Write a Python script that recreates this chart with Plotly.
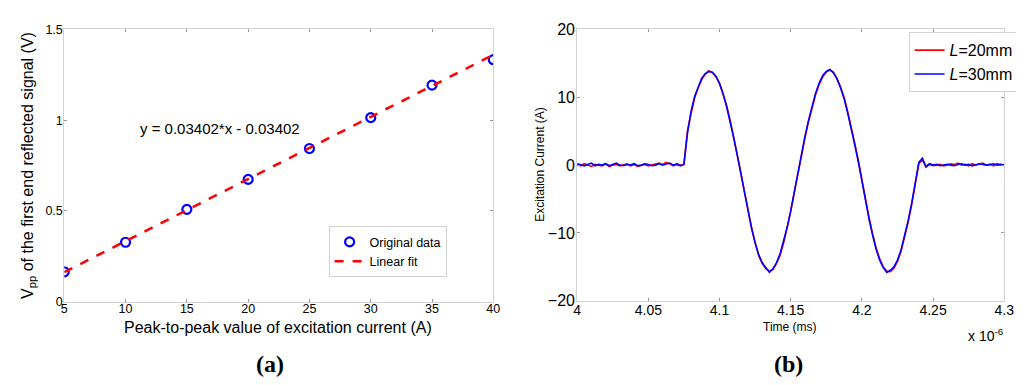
import numpy as np
import plotly.graph_objects as go

# ---------------- Data: panel (a) ----------------
current_A = [5, 10, 15, 20, 25, 30, 35, 40]
vpp_V = [0.165, 0.328, 0.509, 0.674, 0.844, 1.014, 1.193, 1.333]
fit_x = [5, 40]
fit_y = [0.163, 1.36]
fit_label = "y = 0.03402*x - 0.03402"

# ---------------- Data: panel (b) ----------------
time_start, time_end, n_samples = 4.0, 4.3, 121
L20_pre = [0.1, -0.1, 0.2, 0.0, -0.2, 0.1, 0.0, -0.1, 0.2, -0.2, 0.0, 0.1, -0.1, 0.0, 0.2, -0.1,
           0.1, -0.2, 0.0, 0.1, -0.1, 0.0, 0.1, 0.3, 0.1, 0.4, 0.2, -0.1, 0.2, 0.0, 0.1]
L20_burst = [5.1, 7.6, 9.9, 11.4, 12.6, 13.4, 13.9, 13.6, 13.0, 12.1, 10.6, 8.8, 6.6, 4.2, 1.6,
             -1.1, -3.9, -6.7, -9.2, -11.5, -13.3, -14.5, -15.3, -15.6, -15.4, -14.5, -13.3,
             -11.5, -9.4, -6.9, -4.1, -1.3, 1.4, 4.0, 6.4, 8.6, 10.4, 11.9, 13.0, 13.7, 14.0,
             13.7, 12.8, 11.5, 10.0, 7.9, 5.7, 3.2, 0.7, -2.2, -5.1, -7.7, -10.1, -12.2, -13.8,
             -15.0, -15.6, -15.7, -15.2, -14.2, -12.7, -10.7, -8.4, -5.8, -3.0]
L20_post = [0.2, 0.8, -0.3, 0.1, -0.1, 0.0, 0.1, -0.1, 0.0, 0.2, 0.1, 0.3, 0.0, 0.1, -0.1, 0.2,
            0.0, 0.1, 0.3, 0.0, 0.1, -0.1, 0.2, 0.0, 0.1]
L30_pre = [0.2, 0.0, -0.1, 0.1, 0.3, -0.1, 0.1, 0.0, 0.2, -0.1, 0.1, 0.3, 0.0, -0.1, 0.1, 0.0,
           0.2, -0.1, 0.0, 0.2, 0.1, -0.1, 0.0, 0.2, 0.0, 0.1, 0.3, 0.0, 0.1, -0.1, 0.1]
L30_burst = [4.7, 7.9, 10.1, 11.6, 12.8, 13.5, 13.8, 13.7, 13.1, 12.0, 10.5, 8.6, 6.4, 4.0, 1.4,
             -1.3, -4.1, -6.9, -9.3, -11.4, -13.2, -14.4, -15.2, -15.8, -15.3, -14.4, -13.1,
             -11.3, -9.2, -6.7, -3.9, -1.1, 1.6, 4.2, 6.6, 8.8, 10.6, 12.1, 13.2, 13.8, 14.1,
             13.6, 12.7, 11.4, 9.8, 7.7, 5.5, 3.0, 0.5, -2.4, -5.3, -7.9, -10.3, -12.4, -14.0,
             -15.1, -15.8, -15.5, -15.0, -14.0, -12.5, -10.5, -8.2, -5.6, -2.8]
L30_post = [0.4, 1.0, -0.2, 0.2, 0.0, 0.1, -0.1, 0.0, 0.1, 0.0, -0.1, 0.1, 0.2, 0.0, 0.1, -0.1,
            0.0, 0.2, 0.1, 0.0, 0.1, 0.2, 0.0, 0.1, 0.0]

time_axis = np.linspace(time_start, time_end, n_samples)
L20 = L20_pre + L20_burst + L20_post
L30 = L30_pre + L30_burst + L30_post

W, H = 1024, 385
def px(x):
    return x / W
def py(y):
    return 1 - y / H

FONT = "Liberation Sans, Arial, sans-serif"
AXLINE = "#d2d2d2"

fig = go.Figure()

fig.add_trace(go.Scatter(x=current_A, y=vpp_V, mode="markers", name="Original data",
                         marker=dict(symbol="circle-open", size=9, color="#0000ff",
                                     line=dict(width=2.2, color="#0000ff")),
                         xaxis="x", yaxis="y", legend="legend"))
fig.add_trace(go.Scatter(x=fit_x, y=fit_y, mode="lines", name="Linear fit",
                         line=dict(color="#ff0000", width=2.5, dash="dash"),
                         xaxis="x", yaxis="y", legend="legend"))

fig.add_trace(go.Scatter(x=time_axis, y=L20, mode="lines", name="<i>L</i>=20mm",
                         line=dict(color="#ff0000", width=1.6),
                         xaxis="x2", yaxis="y2", legend="legend2"))
fig.add_trace(go.Scatter(x=time_axis, y=L30, mode="lines", name="<i>L</i>=30mm",
                         line=dict(color="#0000ff", width=1.6),
                         xaxis="x2", yaxis="y2", legend="legend2"))

axis_common = dict(showline=True, linecolor=AXLINE, linewidth=1, mirror="ticks",
                   ticks="inside", ticklen=3, tickcolor="#999999", showgrid=False,
                   zeroline=False)

def tf(size):
    return dict(family=FONT, color="black", size=size)

fig.update_layout(
    width=W, height=H,
    margin=dict(l=0, r=0, t=0, b=0),
    paper_bgcolor="white", plot_bgcolor="white",
    showlegend=True,
    xaxis=dict(domain=[px(53), px(488)], range=[5, 40], tickvals=[5, 10, 15, 20, 25, 30, 35, 40],
               anchor="y", tickfont=tf(12.5), ticklabelstandoff=-5, **axis_common),
    yaxis=dict(domain=[py(299), py(14)], range=[0, 1.5], tickvals=[0, 0.5, 1, 1.5],
               anchor="x", tickfont=tf(12.5), ticklabelstandoff=-2, **axis_common),
    xaxis2=dict(domain=[px(573), px(1006)], range=[4.0, 4.3],
                tickvals=[4.0, 4.05, 4.1, 4.15, 4.2, 4.25, 4.3],
                ticktext=["4", "4.05", "4.1", "4.15", "4.2", "4.25", "4.3"],
                anchor="y2", tickfont=tf(14), ticklabelstandoff=-4, **axis_common),
    yaxis2=dict(domain=[py(298), py(14)], range=[-20, 20], tickvals=[-20, -10, 0, 10, 20],
                anchor="x2", tickfont=tf(16), ticklabelstandoff=-2, **axis_common),
    legend=dict(x=px(321), y=py(220), xanchor="left", yanchor="top",
                bgcolor="white", bordercolor=AXLINE, borderwidth=1,
                font=dict(family=FONT, size=12.5, color="black"),
                itemwidth=30, tracegroupgap=0, entrywidth=85),
    legend2=dict(x=px(909), y=py(17), xanchor="left", yanchor="top",
                 bgcolor="white", bordercolor=AXLINE, borderwidth=1,
                 font=dict(family=FONT, size=16, color="black"),
                 itemwidth=30, tracegroupgap=0),
)

ann = []
ann.append(dict(text=fit_label, x=11.03, y=0.953, xref="x", yref="y", xanchor="left",
                yanchor="middle", showarrow=False, font=dict(family=FONT, size=15, color="black")))
ann.append(dict(text="Peak-to-peak value of excitation current (A)", x=px(270), y=py(326),
                xref="paper", yref="paper", xanchor="center", yanchor="middle", showarrow=False,
                font=dict(family=FONT, size=16, color="black")))
ann.append(dict(text="V<sub>pp</sub> of the first end reflected signal (V)", x=px(16), y=py(156),
                xref="paper", yref="paper", xanchor="center", yanchor="middle", showarrow=False,
                textangle=-90, font=dict(family=FONT, size=16, color="black")))
ann.append(dict(text="Excitation Current (A)", x=px(535), y=py(155), xref="paper", yref="paper",
                xanchor="center", yanchor="middle", showarrow=False, textangle=-90,
                font=dict(family=FONT, size=12, color="black")))
ann.append(dict(text="Time (ms)", x=px(789), y=py(325), xref="paper", yref="paper",
                xanchor="center", yanchor="middle", showarrow=False,
                font=dict(family=FONT, size=12, color="black")))
ann.append(dict(text="x 10<sup>-6</sup>", x=px(1008), y=py(334), xref="paper", yref="paper",
                xanchor="right", yanchor="middle", showarrow=False,
                font=dict(family=FONT, size=14, color="black")))
ann.append(dict(text="<b>(a)</b>", x=px(262), y=py(364), xref="paper", yref="paper",
                xanchor="center", yanchor="middle", showarrow=False,
                font=dict(family="Liberation Serif, Times New Roman, serif", size=24, color="black")))
ann.append(dict(text="<b>(b)</b>", x=px(787), y=py(364), xref="paper", yref="paper",
                xanchor="center", yanchor="middle", showarrow=False,
                font=dict(family="Liberation Serif, Times New Roman, serif", size=24, color="black")))
fig.update_layout(annotations=ann)

fig.write_html("out.html")
